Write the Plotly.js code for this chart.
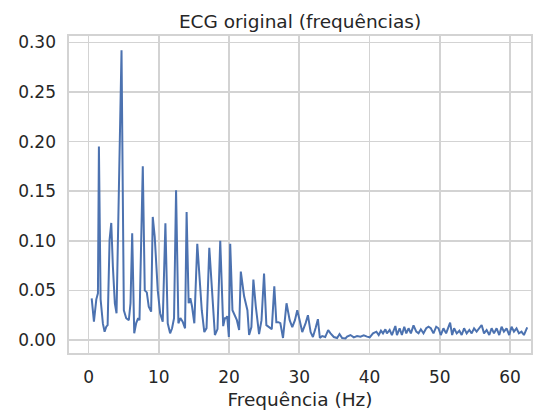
<!DOCTYPE html>
<html>
<head>
<meta charset="utf-8">
<script src="https://cdn.plot.ly/plotly-3.0.1.min.js"></script>
<style>
html, body { margin: 0; padding: 0; overflow: hidden; background: #fff; }
#chart { width: 545px; height: 410px; }
</style>
</head>
<body>
<div id="chart"></div>
<script>
// Frequencies (Hz) and spectral amplitudes
const freq = [
  0.43, 0.75, 1.09, 1.32, 1.46, 1.70, 2.03, 2.27, 2.51, 2.70,
  2.98, 3.22, 3.45, 3.73, 3.97, 4.68, 5.01, 5.35, 5.72, 5.96,
  6.20, 6.49, 6.77, 7.05, 7.24, 7.71, 7.99, 8.28, 8.56, 8.90,
  9.13, 9.41, 9.84, 10.18, 10.55, 10.93, 11.26, 11.60, 11.88, 12.16,
  12.45, 12.78, 13.06, 13.39, 13.73, 13.95, 14.24, 14.48, 14.72, 15.05,
  15.47, 15.80, 16.11, 16.47, 16.79, 17.18, 17.56, 17.98, 18.35, 18.74,
  19.16, 19.40, 19.55, 19.73, 19.97, 20.16, 20.48, 20.82, 21.11, 21.43,
  21.67, 22.14, 22.61, 22.85, 23.18, 23.46, 23.80, 24.27, 24.62, 24.98,
  25.31, 25.69, 26.08, 26.44, 26.73, 27.01, 27.30, 27.68, 27.96, 28.18,
  28.63, 29.00, 29.38, 29.71, 30.05, 30.42, 30.90, 31.23, 31.61, 31.94,
  32.32, 32.65, 32.93, 33.26, 33.69, 34.11, 34.45, 34.92, 35.39, 35.73,
  36.10, 36.58, 36.81, 37.29, 37.76, 38.23, 38.71, 39.18, 39.65, 40.03,
  40.50, 40.98, 41.31, 41.63, 41.92, 42.26, 42.48, 42.87, 43.19, 43.68,
  43.91, 44.29, 44.61, 44.95, 45.24, 45.56, 45.89, 46.27, 46.66, 46.98,
  47.31, 47.69, 48.08, 48.40, 48.73, 49.11, 49.50, 49.82, 50.15, 50.53,
  50.91, 51.24, 51.48, 51.77, 52.05, 52.42, 52.80, 53.13, 53.47, 53.84,
  54.22, 54.55, 54.89, 55.26, 55.64, 55.97, 56.31, 56.68, 57.06, 57.39,
  57.73, 58.10, 58.48, 58.81, 59.14, 59.52, 59.90, 60.23, 60.57, 60.94,
  61.28, 61.65, 61.99, 62.46
];
const amp = [
  0.042, 0.0185, 0.041, 0.047, 0.195, 0.041, 0.0165, 0.0084, 0.0134, 0.015,
  0.101, 0.118, 0.074, 0.037, 0.027, 0.292, 0.030, 0.022, 0.020, 0.037,
  0.1075, 0.0067, 0.017, 0.022, 0.020, 0.175, 0.050, 0.048, 0.0336, 0.0286,
  0.124, 0.104, 0.050, 0.027, 0.0185, 0.1176, 0.0168, 0.0067, 0.0118, 0.022,
  0.151, 0.0168, 0.022, 0.0185, 0.0118, 0.129, 0.037, 0.042, 0.034, 0.0168,
  0.097, 0.060, 0.030, 0.008, 0.012, 0.093, 0.046, 0.005, 0.011, 0.100,
  0.014, 0.022, 0.022, 0.024, 0.003, 0.097, 0.030, 0.025, 0.020, 0.010,
  0.069, 0.044, 0.030, 0.005, 0.013, 0.061, 0.034, 0.006, 0.020, 0.067,
  0.015, 0.013, 0.011, 0.054, 0.018, 0.018, 0.017, 0.002, 0.020, 0.037,
  0.020, 0.013, 0.020, 0.030, 0.020, 0.008, 0.017, 0.025, 0.008, 0.003,
  0.012, 0.021, 0.002, 0.004, 0.003, 0.010, 0.0067, 0.003, 0.002, 0.006,
  0.002, 0.0015, 0.0034, 0.005, 0.0027, 0.004, 0.0034, 0.0047, 0.0034, 0.0027,
  0.0067, 0.0084, 0.005, 0.0094, 0.0067, 0.0108, 0.0067, 0.0101, 0.005, 0.0141,
  0.005, 0.0118, 0.005, 0.0134, 0.0067, 0.0118, 0.0067, 0.0148, 0.0084, 0.0067,
  0.0108, 0.0067, 0.0118, 0.0134, 0.0118, 0.0067, 0.0134, 0.0118, 0.005, 0.0118,
  0.0067, 0.0134, 0.0175, 0.005, 0.0118, 0.0067, 0.0094, 0.005, 0.0118, 0.0067,
  0.0101, 0.0067, 0.0118, 0.0084, 0.0118, 0.0151, 0.0067, 0.0101, 0.005, 0.0118,
  0.0067, 0.0118, 0.005, 0.0134, 0.0084, 0.0118, 0.005, 0.0134, 0.0084, 0.0118,
  0.0067, 0.0084, 0.005, 0.0128
];
const xTicks = [0, 10, 20, 30, 40, 50, 60];
const yTicks = [0.00, 0.05, 0.10, 0.15, 0.20, 0.25, 0.30];
const yTickText = ["0.00", "0.05", "0.10", "0.15", "0.20", "0.25", "0.30"];

const font = "DejaVu Sans, Verdana, sans-serif";
const textColor = "#262626";
const gridColor = "#d3d3d3";

const trace = {
  x: freq, y: amp, type: "scatter", mode: "lines",
  line: { color: "#4c72b0", width: 2 },
  hoverinfo: "skip"
};

const axisBase = {
  showgrid: true, gridcolor: gridColor, gridwidth: 1.6,
  showline: true, linecolor: gridColor, linewidth: 1.6, mirror: true,
  zeroline: false,
  ticks: "outside", ticklen: 8, tickcolor: "rgba(0,0,0,0)",
  tickfont: { family: font, size: 17, color: textColor }
};

const layout = {
  width: 545, height: 410,
  margin: { l: 69, r: 14, t: 36, b: 57 },
  paper_bgcolor: "#ffffff", plot_bgcolor: "#ffffff",
  showlegend: false,
  title: {
    text: "ECG original (frequências)",
    font: { family: font, size: 18.5, color: textColor },
    x: 0.5, xref: "paper", xanchor: "center",
    y: 1 - 21.5 / 410, yref: "container", yanchor: "middle"
  },
  xaxis: Object.assign({}, axisBase, {
    range: [-2.8, 63.0],
    tickvals: xTicks,
    title: { text: "Frequência (Hz)", font: { family: font, size: 18.5, color: textColor }, standoff: 7 }
  }),
  yaxis: Object.assign({}, axisBase, {
    range: [-0.0131, 0.3064],
    tickvals: yTicks, ticktext: yTickText
  })
};

Plotly.newPlot("chart", [trace], layout, { displayModeBar: false, staticPlot: true });
</script>
</body>
</html>
